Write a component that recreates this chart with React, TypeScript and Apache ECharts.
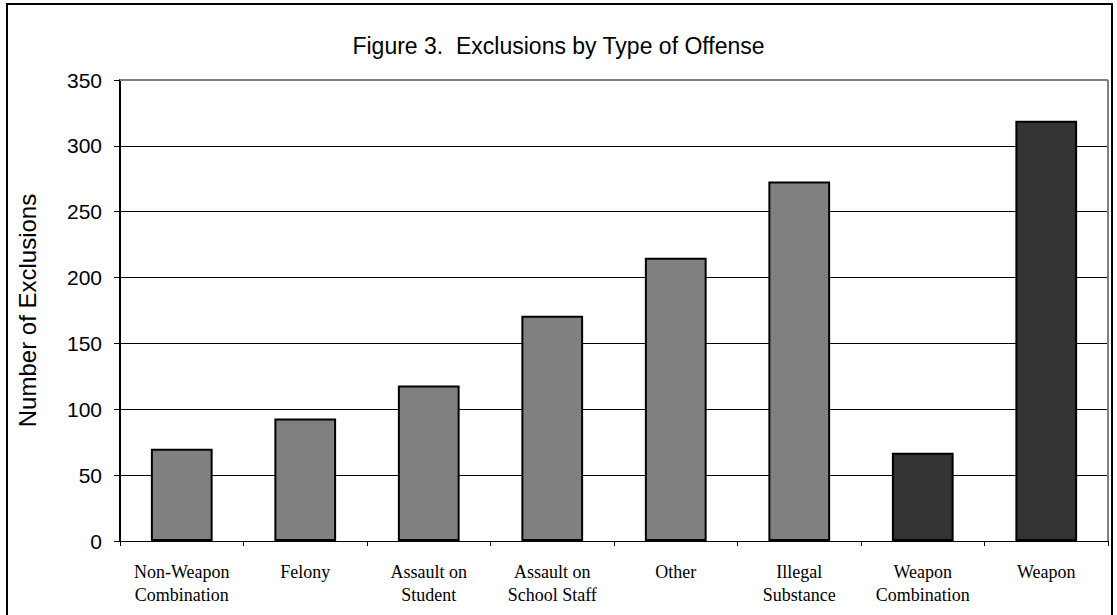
import React, { useEffect, useRef } from "react";
import * as echarts from "echarts";

const categories = [
  "Non-Weapon\nCombination",
  "Felony",
  "Assault on\nStudent",
  "Assault on\nSchool Staff",
  "Other",
  "Illegal\nSubstance",
  "Weapon\nCombination",
  "Weapon",
];
const values = [70, 93, 118, 171, 215, 273, 67, 319];
const barColors = ["#808080", "#808080", "#808080", "#808080", "#808080", "#808080", "#333333", "#333333"];
const titleText = "Figure 3.  Exclusions by Type of Offense";
const yAxisName = "Number of Exclusions";
const yMin = 0;
const yMax = 350;
const yInterval = 50;

export default function App() {
  const ref = useRef<HTMLDivElement>(null);
  useEffect(() => {
    if (!ref.current) return;
    const chart = echarts.init(ref.current, undefined, { renderer: "svg" });
    const splitColors = [] as string[];
    for (let v = yMin; v <= yMax; v += yInterval) splitColors.push(v === yMax ? "#808080" : "#000000");
    chart.setOption({
      animation: false,
      backgroundColor: "#ffffff",
      title: {
        text: titleText,
        left: "center",
        top: 29,
        textStyle: { fontFamily: "Liberation Sans, Arial", fontSize: 23, fontWeight: "normal", color: "#000" },
      },
      graphic: [
        {
          type: "rect",
          shape: { x: 7, y: 4, width: 1105, height: 640 },
          style: { fill: "none", stroke: "#000", lineWidth: 2 },
          silent: true,
        },
        {
          type: "line",
          shape: { x1: 120, y1: 80, x2: 1108, y2: 80 },
          style: { stroke: "#808080", lineWidth: 2 },
          z: 1,
        },
        {
          type: "line",
          shape: { x1: 1108, y1: 80, x2: 1108, y2: 541 },
          style: { stroke: "#808080", lineWidth: 2 },
          z: 1,
        },
      ],
      grid: { left: 120, right: 9, top: 80, bottom: 74, containLabel: false },
      xAxis: {
        type: "category",
        data: categories,
        boundaryGap: true,
        axisLine: { lineStyle: { color: "#000", width: 1 } },
        axisTick: { show: true, length: 5, lineStyle: { color: "#000" } },
        axisLabel: {
          interval: 0,
          margin: 19,
          fontFamily: "Liberation Serif, Times New Roman",
          fontSize: 18,
          lineHeight: 23,
          color: "#000",
        },
      },
      yAxis: {
        type: "value",
        min: yMin,
        max: yMax,
        interval: yInterval,
        name: yAxisName,
        nameLocation: "middle",
        nameGap: 81,
        nameTextStyle: { fontFamily: "Liberation Sans, Arial", fontSize: 24, color: "#000" },
        axisLine: { show: true, lineStyle: { color: "#000", width: 2 } },
        axisTick: { show: true, length: 6, lineStyle: { color: "#000" } },
        axisLabel: { margin: 18, fontFamily: "Liberation Sans, Arial", fontSize: 21, color: "#000" },
        splitLine: { show: true, lineStyle: { color: splitColors, width: 1 } },
      },
      series: [
        {
          type: "bar",
          barWidth: "50%",
          data: values.map((v, i) => ({ value: v, itemStyle: { color: barColors[i] } })),
          itemStyle: { borderColor: "#000", borderWidth: 2 },
        },
      ],
    });
    return () => chart.dispose();
  }, []);
  return <div ref={ref} style={{ position: "fixed", left: 0, top: 0, width: 1117, height: 615 }} />;
}
